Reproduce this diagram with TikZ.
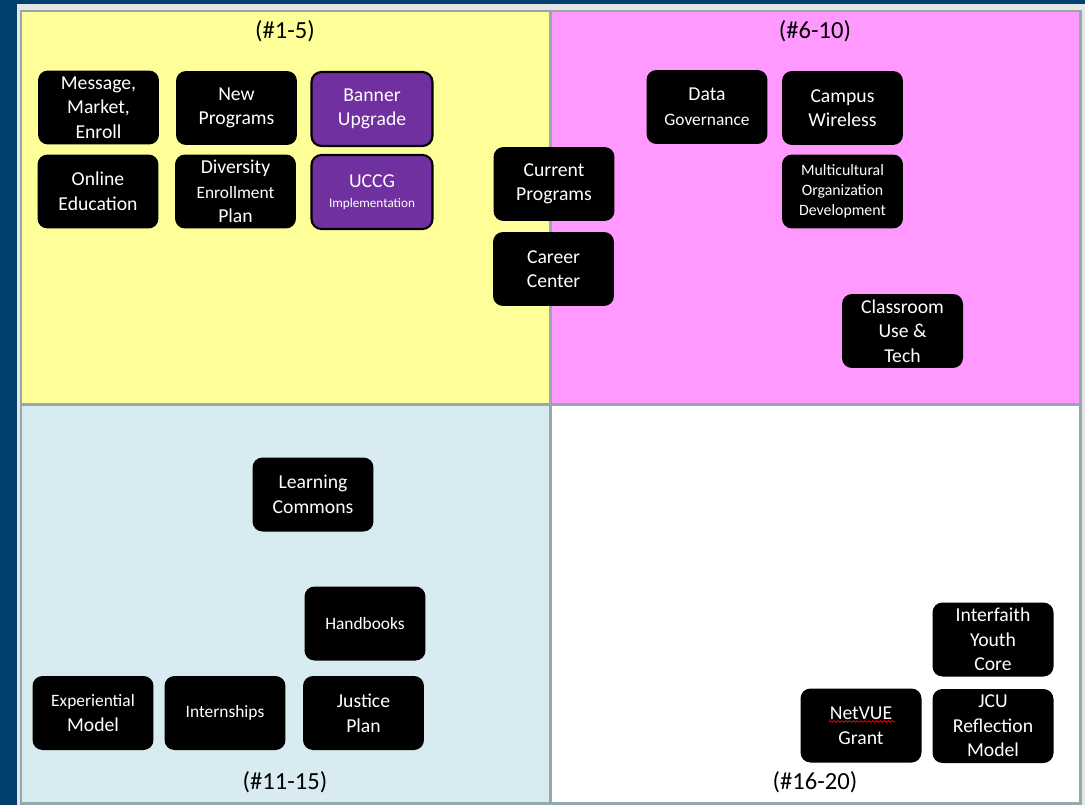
\documentclass[tikz,border=0pt]{standalone}
\usepackage{fontspec}
\setmainfont{Carlito}
\usetikzlibrary{decorations.pathmorphing}
\definecolor{navy}{HTML}{00406E}
\definecolor{pagegrey}{HTML}{E6E6E6}
\definecolor{gridgrey}{HTML}{93A9AE}
\definecolor{quadyellow}{HTML}{FFFF99}
\definecolor{quadpink}{HTML}{FF99FF}
\definecolor{quadblue}{HTML}{D7EBF0}
\definecolor{taskpurple}{HTML}{7030A0}
\newcommand{\boxwidth}{2.42cm}
\newcommand{\boxheight}{1.48cm}
\newcommand{\leftx}{21}
\newcommand{\midx}{550}
\newcommand{\rightx}{1080}
\newcommand{\topy}{11}
\newcommand{\midy}{404}
\newcommand{\bottomy}{803}
\newcommand{\smalltxt}{\fontsize{9.9}{14}\selectfont}
\newcommand{\tinytxt}{\fontsize{7.5}{11.3}\selectfont}

\begin{document}
\begin{tikzpicture}[x=0.02cm,y=-0.02cm]
\tikzstyle{task}=[fill=black,rounded corners=0.2cm,minimum width=\boxwidth,minimum height=\boxheight,text=white,align=center,inner sep=1pt,font=\fontsize{11.2}{14}\selectfont]
\tikzstyle{purpletask}=[task,fill=taskpurple,draw=black,line width=1.2pt]
\tikzstyle{header}=[font=\fontsize{14}{16}\selectfont]
\tikzstyle{gridline}=[draw=gridgrey,line width=1.7pt]
\tikzstyle{spellcheck}=[red,line width=0.4pt,decorate,decoration={snake,amplitude=0.5pt,segment length=2.2pt}]

\useasboundingbox (0,0) rectangle (1085,805);
\fill[navy] (0,0) rectangle (1085,805);
\fill[pagegrey] (17,4) rectangle (1085,805);

% quadrants
\fill[quadyellow] (\leftx,\topy) rectangle (\midx,\midy);
\fill[quadpink] (\midx,\topy) rectangle (\rightx,\midy);
\fill[quadblue] (\leftx,\midy) rectangle (\midx,\bottomy);
\fill[white] (\midx,\midy) rectangle (\rightx,\bottomy);
\draw[gridline] (\leftx,\topy) rectangle (\rightx,\bottomy);
\draw[gridline] (\midx,\topy) -- (\midx,\bottomy);
\draw[gridline] (\leftx,\midy) -- (\rightx,\midy);

\node (hone) [header] at (285,31) {(\#1-5)};
\node (htwo) [header] at (815,31) {(\#6-10)};
\node (hthree) [header] at (285,782) {(\#11-15)};
\node (hfour) [header] at (815,782) {(\#16-20)};

% top left
\node (mme) [task] at (98.5,107.5) {Message,\\Market,\\Enroll};
\node (newprog) [task] at (236.5,108) {New\\Programs};
\node (banner) [purpletask] at (372,109) {Banner\\Upgrade};
\node (online) [task] at (98,191.5) {Online\\Education};
\node (diversity) [task] at (235.5,191.5) {Diversity\\{\smalltxt Enrollment}\\Plan};
\node (uccg) [purpletask,font=\fontsize{11.2}{11.3}\selectfont] at (372,192) {UCCG\\{\tinytxt Implementation}};
\node (curprog) [task] at (554,184) {Current\\Programs};
\node (career) [task] at (553.5,269) {Career\\Center};

% top right
\node (datagov) [task] at (707,107) {Data\\{\smalltxt Governance}};
\node (wireless) [task] at (842.5,108) {Campus\\Wireless};
\node (multicult) [task,font=\fontsize{9}{11.5}\selectfont] at (842.5,191.5) {Multicultural\\Organization\\Development};
\node (classroom) [task] at (902.5,331) {Classroom\\Use \&\\Tech};

% bottom left
\node (learning) [task] at (313,494.5) {Learning\\Commons};
\node (handbooks) [task,font=\smalltxt] at (365,623.5) {Handbooks};
\node (experiential) [task] at (93,713) {{\smalltxt Experiential}\\Model};
\node (internships) [task,font=\smalltxt] at (225,713) {Internships};
\node (justice) [task] at (363.5,713) {Justice\\Plan};

% bottom right
\node (interfaith) [task] at (993,639.5) {Interfaith\\Youth\\Core};
\node (netvue) [task] at (861,725.5) {NetVUE\\Grant};
\node (jcu) [task] at (993,726) {JCU\\Reflection\\Model};
\draw[spellcheck] ([shift={(-32,-4)}]netvue.center) -- ([shift={(34,-4)}]netvue.center);

\end{tikzpicture}
\end{document}
